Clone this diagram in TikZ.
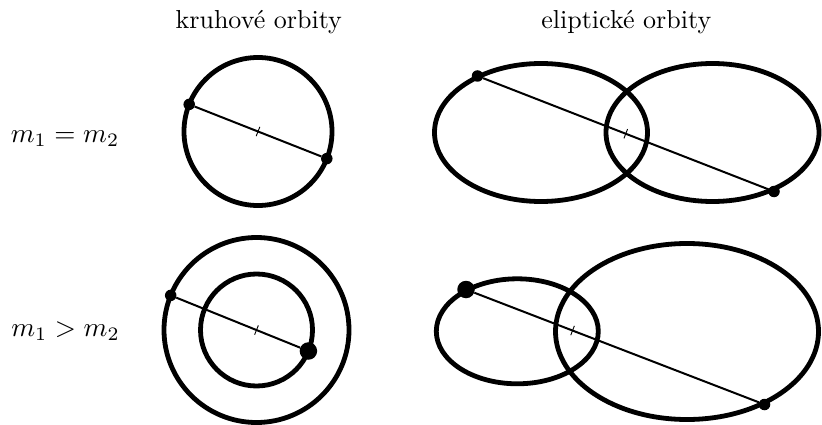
\documentclass[tikz,border=0pt]{standalone}
\usetikzlibrary{calc}
\begin{document}
\begin{tikzpicture}[x=1pt,y=-1pt,
  orbit/.style={line width=4.8pt},
  link/.style={line width=2pt},
  tickmark/.style={line width=0.9pt},
  smalldot/.style={circle,fill=black,inner sep=0pt,minimum size=11.5pt},
  bigdot/.style={circle,fill=black,inner sep=0pt,minimum size=17.5pt},
  title/.style={anchor=base,scale=2.6},
  rowlabel/.style={anchor=base,scale=2.72}]
\useasboundingbox (0,0) rectangle (822,425);

% titles and row labels
\node[title] (t1) at (258.8,28.3) {kruhov\'e orbity};
\node[title] (t2) at (626.3,28.3) {eliptick\'e orbity};
\node[rowlabel] (r1) at (65,142.3) {$m_1 = m_2$};
\node[rowlabel] (r2) at (65.5,336.7) {$m_1 > m_2$};

% top-left: circular, equal masses
\draw[orbit] (258,131.5) circle[radius=74pt];
\node[smalldot] (a1) at (189.2,104.4) {};
\node[smalldot] (b1) at (326.8,158.6) {};
\draw[link] (a1) -- (b1);
\coordinate (m1) at ($(a1)!0.5!(b1)$);
\draw[tickmark] ($(m1)!5pt!90:(b1)$) -- ($(m1)!5pt!-90:(b1)$);

% top-right: elliptic, equal masses
\draw[orbit] (541,132.5) ellipse[x radius=106.5pt, y radius=69pt];
\draw[orbit] (712.5,132.5) ellipse[x radius=106.5pt, y radius=69pt];
\node[smalldot] (a2) at (477.5,76) {};
\node[smalldot] (b2) at (774,191.5) {};
\draw[link] (a2) -- (b2);
\coordinate (m2) at ($(a2)!0.5!(b2)$);
\draw[tickmark] ($(m2)!5pt!90:(b2)$) -- ($(m2)!5pt!-90:(b2)$);

% bottom-left: circular, m1 > m2
\draw[orbit] (256.5,330) circle[radius=92.5pt];
\draw[orbit] (256.5,330) circle[radius=56pt];
\node[smalldot] (a3) at (170.7,295.4) {};
\node[bigdot] (b3) at (308.4,351) {};
\draw[link] (a3) -- (b3);
\coordinate (m3) at ($(a3)!0.623!(b3)$);
\draw[tickmark] ($(m3)!5pt!90:(b3)$) -- ($(m3)!5pt!-90:(b3)$);

% bottom-right: elliptic, m1 > m2
\draw[orbit] (517.3,331.3) ellipse[x radius=81pt, y radius=52.5pt];
\draw[orbit] (687,331.5) ellipse[x radius=131.5pt, y radius=88pt];
\node[bigdot] (a4) at (466,289.5) {};
\node[smalldot] (b4) at (764.5,404.5) {};
\draw[link] (a4) -- (b4);
\coordinate (m4) at ($(a4)!0.357!(b4)$);
\draw[tickmark] ($(m4)!5pt!90:(b4)$) -- ($(m4)!5pt!-90:(b4)$);
\end{tikzpicture}
\end{document}
